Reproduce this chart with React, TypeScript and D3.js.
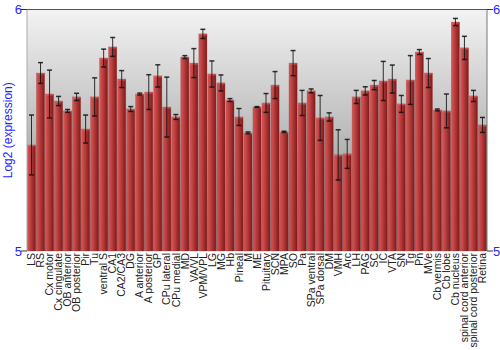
import React from "react";
import * as d3 from "d3";

const categories = ["LS","RS","Cx motor","Cx cingulate","OB anterior","OB posterior","Pir","Tu","ventral S","CA1","CA2/CA3","DG","A anterior","A posterior","GP","CPu lateral","CPu medial","MD","VA/VL","VPM/VPL","LG","MG","Hb","Pineal","M","ME","Pituitary","SCN","MPA","SO","Pa","SPa ventral","SPa dorsal","DM","VMH","Arc","LH","PAG","SC","IC","VTA","SN","Tg","Pn","MVe","Cb vermis","Cb lobe","Cb nucleus","spinal cord anterior","spinal cord posterior","Retina"];

const values = [5.439,5.737,5.650,5.621,5.580,5.638,5.505,5.638,5.799,5.845,5.712,5.588,5.650,5.658,5.725,5.596,5.555,5.803,5.778,5.899,5.733,5.696,5.625,5.555,5.489,5.596,5.613,5.687,5.493,5.778,5.613,5.663,5.551,5.555,5.398,5.402,5.638,5.663,5.687,5.704,5.712,5.609,5.708,5.824,5.737,5.584,5.580,5.948,5.841,5.642,5.522];

const errors = [0.124,0.043,0.099,0.019,0.006,0.015,0.058,0.079,0.037,0.039,0.035,0.010,0.004,0.072,0.046,0.124,0.010,0.006,0.060,0.019,0.054,0.033,0.006,0.035,0.004,0.002,0.039,0.056,0.003,0.052,0.052,0.008,0.093,0.017,0.104,0.060,0.027,0.017,0.019,0.081,0.058,0.035,0.101,0.010,0.060,0.004,0.070,0.015,0.048,0.023,0.031];

const yTicks = [5, 6];
const yLabel = "Log2 (expression)";

export default function App() {
  const W = 500, H = 350;
  const left = 27, right = 487, top = 9.5, bottom = 251;
  const x = d3.scaleBand<string>().domain(categories).range([left, right]).paddingInner(0.1).paddingOuter(0.05);
  const y = d3.scaleLinear().domain([5, 6]).range([bottom, top]);
  const bw = x.bandwidth();
  const blue = "#1f1fff";
  return (
    <svg width={W} height={H} style={{ position: "absolute", left: 0, top: 0, fontFamily: "Liberation Sans, Arial, sans-serif" }}>
      <defs>
        <linearGradient id="bg" x1="0" y1="0" x2="0" y2="1">
          <stop offset="0%" stopColor="#f3f3f3" />
          <stop offset="100%" stopColor="#868686" />
        </linearGradient>
        <linearGradient id="bar" x1="0" y1="0" x2="1" y2="0">
          <stop offset="0%" stopColor="#d35a5a" />
          <stop offset="35%" stopColor="#c04040" />
          <stop offset="100%" stopColor="#7e1a1a" />
        </linearGradient>
      </defs>
      <rect x={left} y={top} width={right - left} height={bottom - top} fill="url(#bg)" />
      {categories.map((c, i) => {
        const bx = x(c)!;
        const by = y(values[i]);
        return (
          <g key={c}>
            <rect x={bx} y={by} width={bw} height={bottom - by} fill="url(#bar)" stroke="#a03030" strokeOpacity={0.5} strokeWidth={0.6} />
            <rect x={bx} y={by} width={bw} height={1.5} fill="#e07070" opacity={0.6} />
          </g>
        );
      })}
      {categories.map((c, i) => {
        const cx = x(c)! + bw / 2;
        const y1 = y(values[i] + errors[i]);
        const y2 = y(values[i] - errors[i]);
        return (
          <g key={"e" + c} stroke="#111" strokeOpacity={0.85} strokeWidth={1}>
            <line x1={cx} x2={cx} y1={y1} y2={y2} />
            <line x1={cx - 2.5} x2={cx + 2.5} y1={y1} y2={y1} strokeWidth={1.5} />
            <line x1={cx - 2.5} x2={cx + 2.5} y1={y2} y2={y2} strokeWidth={1.5} />
          </g>
        );
      })}
      <line x1={left} x2={right} y1={top} y2={top} stroke="#555" strokeWidth={1.2} />
      <line x1={right} x2={right} y1={top} y2={bottom} stroke="#777" strokeWidth={1} />
      <line x1={left} x2={left} y1={top} y2={bottom} stroke="#aaa" strokeWidth={1} />
      {yTicks.map((t) => (
        <g key={t}>
          <line x1={left - 6} x2={left} y1={y(t)} y2={y(t)} stroke="#333" />
          <line x1={right} x2={right + 6} y1={y(t)} y2={y(t)} stroke="#333" />
          <text x={left - 5} y={y(t)} dy="0.35em" textAnchor="end" fontSize={13} fill={blue}>{t}</text>
          <text x={right + 6} y={y(t)} dy="0.35em" textAnchor="start" fontSize={13} fill={blue}>{t}</text>
        </g>
      ))}
      <text transform={`translate(12,${(top + bottom) / 2}) rotate(-90)`} textAnchor="middle" fontSize={12} fill={blue}>{yLabel}</text>
      {categories.map((c) => (
        <text key={"l" + c} transform={`translate(${x(c)! + bw / 2},${bottom + 2}) rotate(-90)`} textAnchor="end" dy="0.35em" fontSize={10.5} fill="#222">{c}</text>
      ))}
    </svg>
  );
}
